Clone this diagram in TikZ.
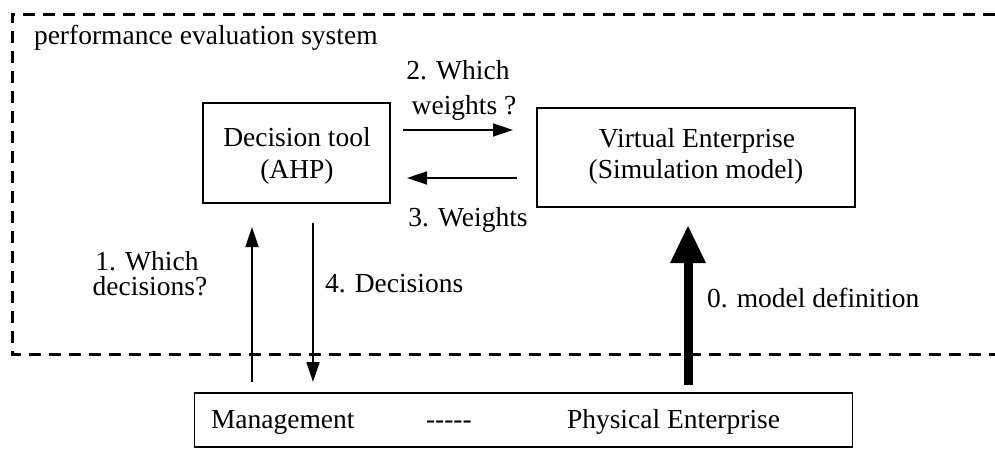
\documentclass[tikz,border=0pt]{standalone}
\usepackage{fontspec}
\setmainfont{Liberation Serif}
\usetikzlibrary{arrows.meta}
\begin{document}
\begin{tikzpicture}[x=1pt,y=-1pt,
  box/.style={draw,line width=1.6pt,inner sep=0pt,outer sep=0pt},
  txt/.style={font=\fontsize{27.5}{33}\selectfont,inner sep=0pt,outer sep=0pt},
  arr/.style={line width=1.8pt,-{Triangle[width=13pt,length=20pt]}},
  bigarr/.style={line width=9pt,-{Triangle[width=33pt,length=38pt]}},
  border/.style={line width=3pt,dash pattern=on 12pt off 8pt}]
\useasboundingbox (0,0) rectangle (995,450);
% dashed system border (open on the right)
\draw[border] (995,14) -- (12,14) -- (12,354) -- (995,354);
\node[txt,anchor=base west] (pes) at (34,44) {performance evaluation system};
% boxes
\node[box,minimum width=187pt,minimum height=100pt] (dt) at (296.5,153) {};
\node[txt,anchor=base] (dt1) at (297,146) {Decision tool};
\node[txt,anchor=base] (dt2) at (297,178) {(AHP)};
\node[box,minimum width=318pt,minimum height=99pt] (ve) at (696,157.5) {};
\node[txt,anchor=base] (ve1) at (697,147) {Virtual Enterprise};
\node[txt,anchor=base] (ve2) at (696,178) {(Simulation model)};
\node[box,minimum width=658pt,minimum height=54pt] (pe) at (523.5,420) {};
\node[txt,anchor=base west] (mg) at (211,428) {Management};
\node[txt,anchor=base west] (dsh) at (426,428) {-{}-{}-{}-{}-};
\node[txt,anchor=base west] (ph) at (567,428) {Physical Enterprise};
% connectors
\coordinate (x1) at (252,0);
\coordinate (x4) at (313,0);
\coordinate (x0) at (688,0);
\coordinate (y2) at (0,130);
\coordinate (y3) at (0,178);
\draw[arr,shorten <=11pt,shorten >=24pt] (x1 |- pe.north) -- (x1 |- dt.south);
\draw[arr,shorten <=20pt,shorten >=11pt] (x4 |- dt.south) -- (x4 |- pe.north);
\draw[arr,shorten <=13pt,shorten >=24pt] (dt.east |- y2) -- (ve.west |- y2);
\draw[arr,shorten <=20pt,shorten >=17pt] (ve.west |- y3) -- (dt.east |- y3);
\draw[bigarr,shorten <=8pt,shorten >=18pt] (x0 |- pe.north) -- (x0 |- ve.south);
% labels
\node[txt,anchor=base] (l2a) at (458,79) {2. Which};
\node[txt,anchor=base] (l2b) at (464,114) {weights ?};
\node[txt,anchor=base] (l3) at (468,226) {3. Weights};
\node[txt,anchor=base] (l1a) at (147,270) {1. Which};
\node[txt,anchor=base] (l1b) at (150,295) {decisions?};
\node[txt,anchor=base west] (l4) at (325,292) {4. Decisions};
\node[txt,anchor=base west] (l0) at (707,307) {0. model definition};
\end{tikzpicture}
\end{document}
